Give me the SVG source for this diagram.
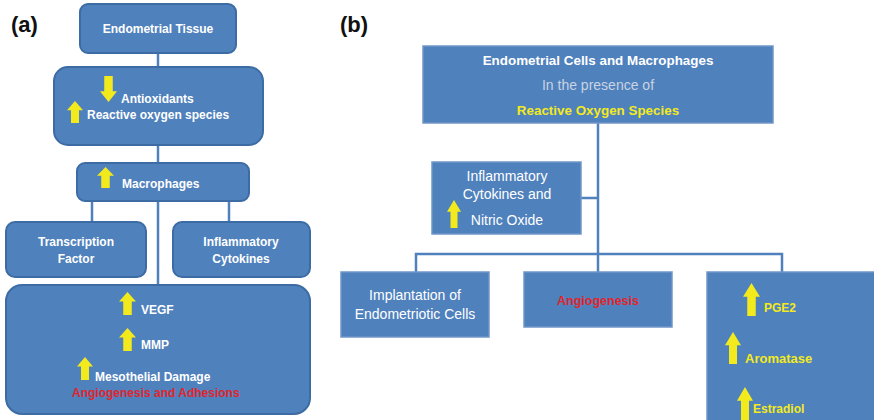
<svg xmlns="http://www.w3.org/2000/svg" xmlns:xlink="http://www.w3.org/1999/xlink" width="874" height="420" viewBox="0 0 874 420">
  <style>
    .boxa { fill: #4f81bd; stroke: #3c6ca3; stroke-width: 2; }
    .boxb { fill: #4f81bd; stroke: #7096c8; stroke-width: 1.5; }
    .link { fill: none; stroke: #4f81bd; stroke-width: 2.5; }
    .t { font-family: "Liberation Sans", Arial, sans-serif; font-size: 12px; fill: #ffffff; }
    .m { font-size: 14px; }
    .h { font-size: 13.4px; }
    .b { font-weight: bold; }
    .c { text-anchor: middle; }
    .red { fill: #e0252c; }
    .yel { fill: #f3ea1e; }
    .grey { fill: #c9d3e2; }
    .panel { font-family: "Liberation Sans", Arial, sans-serif; font-size: 22px; font-weight: bold; fill: #111111; }
    .arrow { fill: #f3ea1e; }
  </style>
  <defs>
    <symbol id="up" viewBox="0 0 16 24" preserveAspectRatio="none">
      <path class="arrow" d="M8,0 L16,10 L12,10 L12,24 L4,24 L4,10 L0,10 Z"/>
    </symbol>
    <symbol id="down" viewBox="0 0 16 24" preserveAspectRatio="none">
      <path class="arrow" d="M8,24 L16,14 L12,14 L12,0 L4,0 L4,14 L0,14 Z"/>
    </symbol>
  </defs>

  <rect width="874" height="420" fill="#ffffff"/>

  <text class="panel" x="11" y="32">(a)</text>
  <text class="panel" x="340" y="32">(b)</text>

  <!-- connectors -->
  <g id="connectors">
    <path class="link" d="M158,53 V67"/>
    <path class="link" d="M158,145 V163"/>
    <path class="link" d="M92,201 V222 M158,201 V285 M229,201 V222"/>
    <path class="link" d="M598,123 V272"/>
    <path class="link" d="M581,198 H598"/>
    <path class="link" d="M416,272 V254 H782 V272"/>
  </g>

  <!-- panel (a) -->
  <g id="a-tissue">
    <rect class="boxa" x="80" y="4" width="156" height="49" rx="8"/>
    <text class="t b c" x="158" y="33">Endometrial Tissue</text>
  </g>
  <g id="a-ros">
    <rect class="boxa" x="54" y="67" width="209" height="78" rx="14"/>
    <use href="#down" x="100" y="76" width="17" height="26"/>
    <use href="#up" x="67" y="101" width="16" height="22"/>
    <text class="t b" x="121" y="103">Antioxidants</text>
    <text class="t b" x="87" y="119">Reactive oxygen species</text>
  </g>
  <g id="a-macrophages">
    <rect class="boxa" x="77" y="163" width="172" height="38" rx="8"/>
    <use href="#up" x="97" y="167" width="17" height="21"/>
    <text class="t b" x="122" y="188">Macrophages</text>
  </g>
  <g id="a-transcription">
    <rect class="boxa" x="6" y="222" width="140" height="55" rx="9"/>
    <text class="t b c" x="76" y="246">Transcription</text>
    <text class="t b c" x="76" y="263">Factor</text>
  </g>
  <g id="a-cytokines">
    <rect class="boxa" x="173" y="222" width="137" height="55" rx="9"/>
    <text class="t b c" x="241" y="246">Inflammatory</text>
    <text class="t b c" x="241" y="263">Cytokines</text>
  </g>
  <g id="a-outcome">
    <rect class="boxa" x="6" y="285" width="304" height="129" rx="16"/>
    <use href="#up" x="119" y="292" width="17" height="23"/>
    <text class="t b" x="141" y="314">VEGF</text>
    <use href="#up" x="119" y="328" width="17" height="23"/>
    <text class="t b" x="141" y="349">MMP</text>
    <use href="#up" x="77" y="357" width="16" height="23"/>
    <text class="t b" x="95" y="381">Mesothelial Damage</text>
    <text class="t b red" x="72" y="397">Angiogenesis and Adhesions</text>
  </g>

  <!-- panel (b) -->
  <g id="b-source">
    <rect class="boxb" x="423" y="46" width="350" height="77"/>
    <text class="t h b c" x="598" y="65">Endometrial Cells and Macrophages</text>
    <text class="t m c grey" x="598" y="90">In the presence of</text>
    <text class="t h b c yel" x="598" y="115">Reactive Oxygen Species</text>
  </g>
  <g id="b-cytokines">
    <rect class="boxb" x="432" y="162" width="149" height="72"/>
    <text class="t m c" x="507" y="181">Inflammatory</text>
    <text class="t m c" x="507" y="199">Cytokines and</text>
    <use href="#up" x="447" y="200" width="14" height="28"/>
    <text class="t m c" x="507" y="225">Nitric Oxide</text>
  </g>
  <g id="b-implantation">
    <rect class="boxb" x="341" y="272" width="148" height="65"/>
    <text class="t m c" x="415" y="300">Implantation of</text>
    <text class="t m c" x="415" y="319">Endometriotic Cells</text>
  </g>
  <g id="b-angiogenesis">
    <rect class="boxb" x="524" y="272" width="148" height="55"/>
    <text class="t b c red" x="598" y="305" style="font-size:12.5px">Angiogenesis</text>
  </g>
  <g id="b-hormones">
    <rect class="boxb" x="707" y="272" width="170" height="152"/>
    <use href="#up" x="743" y="283" width="17" height="33"/>
    <text class="t b yel" x="764" y="312">PGE2</text>
    <use href="#up" x="725" y="332" width="16" height="32"/>
    <text class="t b yel" x="745" y="363" style="font-size:13px">Aromatase</text>
    <use href="#up" x="737" y="387" width="16" height="33"/>
    <text class="t b yel" x="753" y="413">Estradiol</text>
  </g>
</svg>
